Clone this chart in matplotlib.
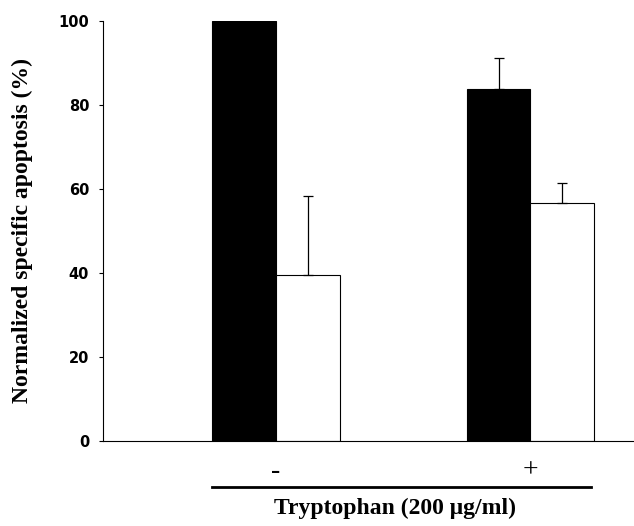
import numpy as np
import matplotlib.pyplot as plt
import matplotlib.transforms as mtransforms

# data
groups = ['-', '+']
black_vals = [100.0, 83.7]
black_err = [0.0, 7.5]
white_vals = [39.4, 56.5]
white_err = [18.9, 4.8]
yticks = [0, 20, 40, 60, 80, 100]

serif = ['Liberation Serif', 'DejaVu Serif']

fig = plt.figure(figsize=(6.34, 5.26), dpi=100)
ax = fig.add_axes([0.1625, 0.162, 0.8375, 0.7986])

x = np.array([0, 4])
w = 1.0
ax.bar(x - w/2, black_vals, w, color='black', edgecolor='black', lw=0.8)
ax.bar(x + w/2, white_vals, w, color='white', edgecolor='black', lw=0.8)

# only upper error bars
ax.errorbar(x[1:] - w/2, black_vals[1:], yerr=[[0], black_err[1:]], fmt='none',
            ecolor='black', elinewidth=0.9, capsize=3.5, capthick=0.9)
ax.errorbar(x + w/2, white_vals, yerr=[[0, 0], white_err], fmt='none',
            ecolor='black', elinewidth=0.9, capsize=3.5, capthick=0.9)

ax.set_xlim(-2.72, 5.63)
ax.set_ylim(0, 100)
ax.set_yticks(yticks)
ax.set_yticklabels([str(v) for v in yticks], fontweight='bold', fontsize=10.5,
                   family='DejaVu Sans')
ax.tick_params(axis='y', direction='out', length=3, width=0.8, pad=7)

ax.set_xticks(x)
ax.set_xticklabels(groups, family=serif, fontsize=20)
ax.tick_params(axis='x', length=0, pad=13)

for s in ['top', 'right']:
    ax.spines[s].set_visible(False)
for s in ['left', 'bottom']:
    ax.spines[s].set_linewidth(0.8)

ax.set_ylabel('Normalized specific apoptosis (%)', family=serif,
              fontweight='bold', fontsize=17)
ax.yaxis.set_label_coords(-0.132, 0.5)

# bracket line under the groups and the group title
trans = mtransforms.blended_transform_factory(ax.transData, ax.transAxes)
ax.plot([-1.0, 4.95], [-0.1095, -0.1095], color='black', lw=2,
        transform=trans, clip_on=False)
ax.text(1.87, -0.16, 'Tryptophan (200 μg/ml)', transform=trans,
        ha='center', va='center', family=serif, fontweight='bold', fontsize=17)

fig.savefig('out.png', dpi=100)
